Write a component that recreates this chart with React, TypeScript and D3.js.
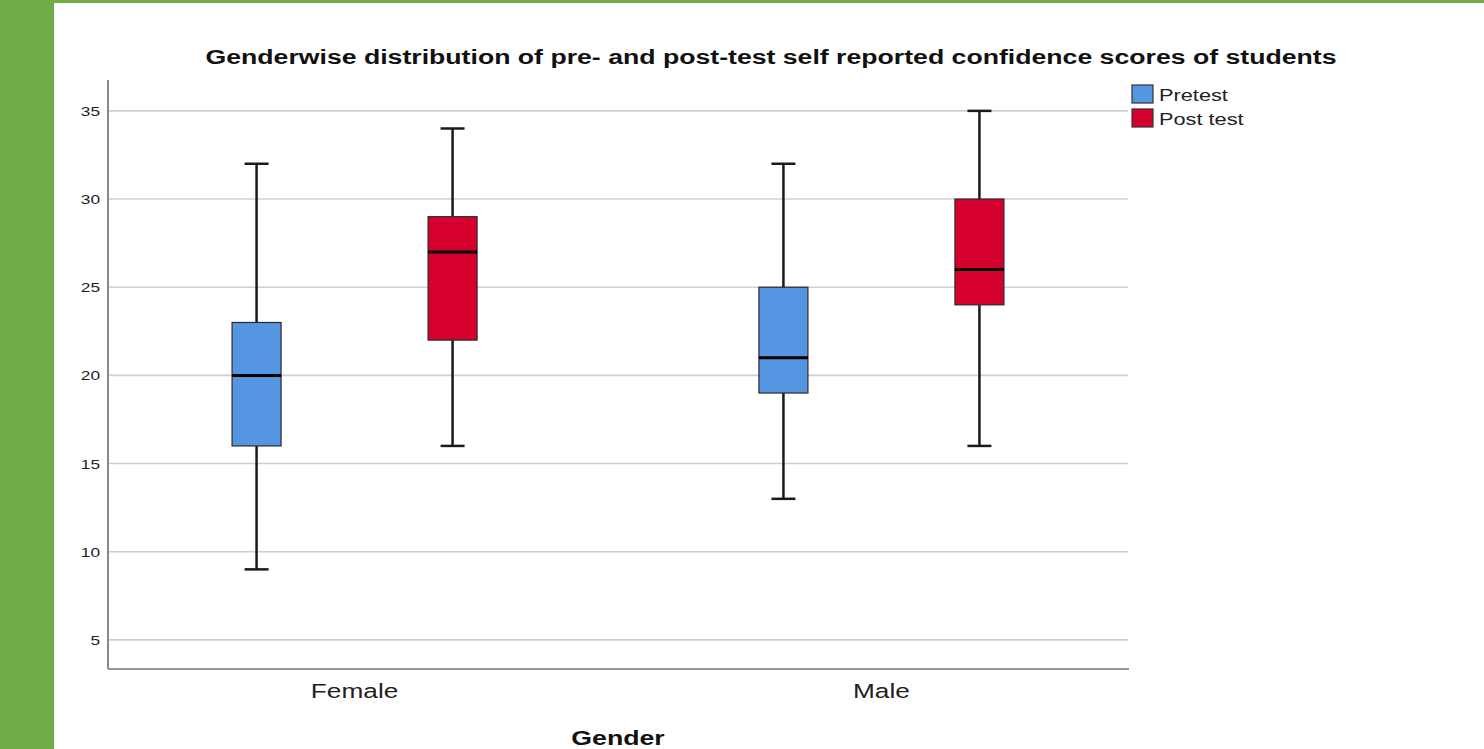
import React from "react";
import * as d3 from "d3";

const genders = ["Female", "Male"];
const tests = ["Pretest", "Post test"];
const testColors = ["#5596E3", "#D6002F"];
// [min, q1, median, q3, max] per gender per test
const pretestStats = [
  [9, 16, 20, 23, 32],
  [13, 19, 21, 25, 32],
];
const posttestStats = [
  [16, 22, 27, 29, 34],
  [16, 24, 26, 30, 35],
];
const yTicks = [5, 10, 15, 20, 25, 30, 35];

const W = 1484;
const H = 749;
const left = 108;
const right = 1128;
const top = 80;
const bottom = 669;
const font = "Liberation Sans, Arial, sans-serif";
const widen = 1.28;

export default function App() {
  const x = d3.scalePoint<string>().domain(genders).range([left, right]).padding(0.468);
  const y = d3.scaleLinear().domain([3.35, 36.75]).range([bottom, top]);
  const offset = 98;
  const boxW = 49;
  const capW = 24;

  const boxes: { cx: number; s: number[]; color: string; key: string }[] = [];
  genders.forEach((g, i) => {
    boxes.push({ cx: (x(g) as number) - offset, s: pretestStats[i], color: testColors[0], key: g + "pre" });
    boxes.push({ cx: (x(g) as number) + offset, s: posttestStats[i], color: testColors[1], key: g + "post" });
  });

  return (
    <svg width={W} height={H} style={{ position: "absolute", left: 0, top: 0, display: "block" }}>
      <rect x={0} y={0} width={W} height={H} fill="#ffffff" />
      <rect x={0} y={0} width={54} height={H} fill="#70AD47" />
      <rect x={0} y={0} width={W} height={3} fill="#70AD47" />
      <text
        x={771}
        y={64}
        textAnchor="middle"
        fontFamily={font}
        fontWeight="bold"
        fontSize={20}
        textLength={1131}
        lengthAdjust="spacingAndGlyphs"
        fill="#111"
      >
        Genderwise distribution of pre- and post-test self reported confidence scores of students
      </text>
      {yTicks.map((t) => (
        <g key={t}>
          <line x1={left} x2={right} y1={y(t)} y2={y(t)} stroke="#cfcfcf" strokeWidth={1.6} />
          <g transform={`translate(100,${y(t) + 5}) scale(${widen},1)`}>
            <text x={0} y={0} textAnchor="end" fontFamily={font} fontSize={13.5} fill="#222">
              {t}
            </text>
          </g>
        </g>
      ))}
      <line x1={left} x2={left} y1={top} y2={bottom} stroke="#888" strokeWidth={2} />
      <line x1={left} x2={right + 1} y1={bottom} y2={bottom} stroke="#999" strokeWidth={2} />
      {boxes.map((b) => {
        const [mn, q1, md, q3, mx] = b.s;
        return (
          <g key={b.key}>
            <line x1={b.cx} x2={b.cx} y1={y(mx)} y2={y(q3)} stroke="#1a1a1a" strokeWidth={2.5} />
            <line x1={b.cx} x2={b.cx} y1={y(q1)} y2={y(mn)} stroke="#1a1a1a" strokeWidth={2.5} />
            <line x1={b.cx - capW / 2} x2={b.cx + capW / 2} y1={y(mx)} y2={y(mx)} stroke="#1a1a1a" strokeWidth={2.5} />
            <line x1={b.cx - capW / 2} x2={b.cx + capW / 2} y1={y(mn)} y2={y(mn)} stroke="#1a1a1a" strokeWidth={2.5} />
            <rect
              x={b.cx - boxW / 2}
              y={y(q3)}
              width={boxW}
              height={y(q1) - y(q3)}
              fill={b.color}
              stroke="#2a2a2a"
              strokeWidth={1.2}
            />
            <line x1={b.cx - boxW / 2} x2={b.cx + boxW / 2} y1={y(md)} y2={y(md)} stroke="#000" strokeWidth={3} />
          </g>
        );
      })}
      {genders.map((g) => (
        <g key={g} transform={`translate(${x(g) as number},698) scale(${widen},1)`}>
          <text x={0} y={0} textAnchor="middle" fontFamily={font} fontSize={20.5} fill="#222">
            {g}
          </text>
        </g>
      ))}
      <g transform={`translate(618,745) scale(1.27,1)`}>
        <text x={0} y={0} textAnchor="middle" fontFamily={font} fontWeight="bold" fontSize={21} fill="#111">
          Gender
        </text>
      </g>
      {tests.map((t, i) => (
        <g key={t}>
          <rect x={1132} y={85 + i * 24} width={21} height={18} fill={testColors[i]} stroke="#333" strokeWidth={1.2} />
          <g transform={`translate(1159,${101 + i * 24}) scale(${widen},1)`}>
            <text x={0} y={0} fontFamily={font} fontSize={17} fill="#222">
              {t}
            </text>
          </g>
        </g>
      ))}
    </svg>
  );
}
